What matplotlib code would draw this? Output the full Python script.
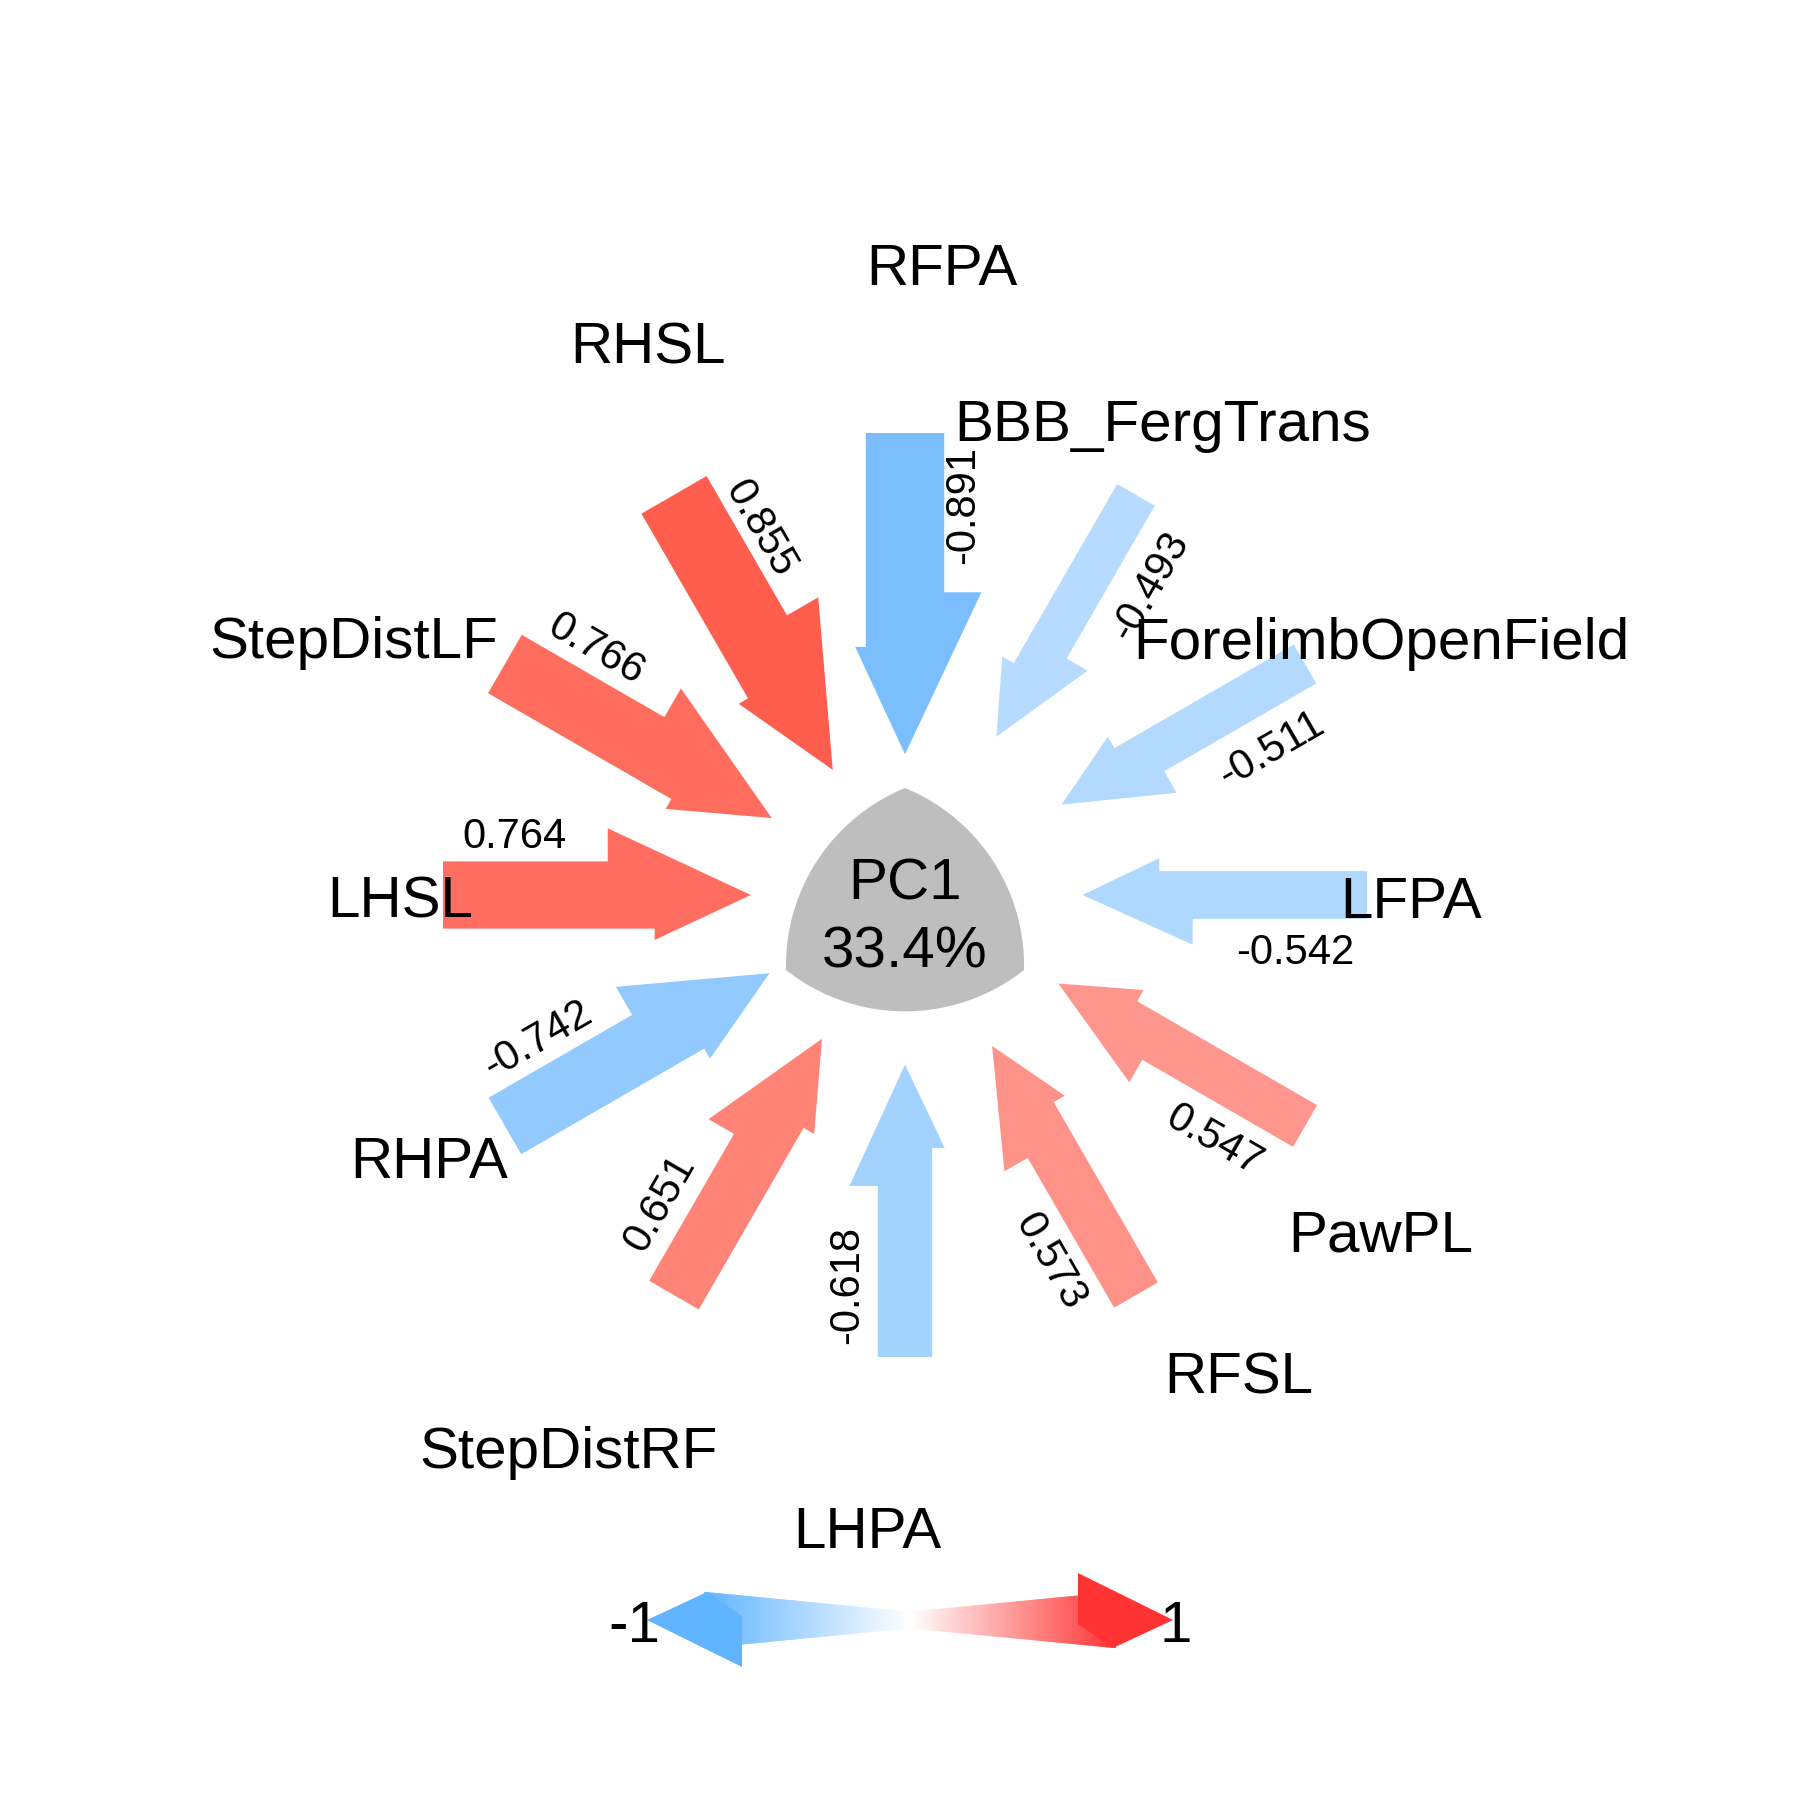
import numpy as np
import matplotlib
matplotlib.use("Agg")
import matplotlib.pyplot as plt
from matplotlib.patches import Polygon
from matplotlib.colors import LinearSegmentedColormap

plt.rcParams['font.family'] = ['Liberation Sans', 'DejaVu Sans']

# ---------------- data ----------------
variables = ["RFPA", "BBB_FergTrans", "ForelimbOpenField", "LFPA", "PawPL", "RFSL",
             "LHPA", "StepDistRF", "RHPA", "LHSL", "StepDistLF", "RHSL"]
loadings = [-0.891, -0.493, -0.511, -0.542, 0.547, 0.573,
            -0.618, 0.651, -0.742, 0.764, 0.766, 0.855]
component = "PC1"
variance_pct = 33.4
legend_ticks = [-1, 1]

# ---------------- layout (pixels in an 1800x1800 canvas) ----------------
CX, CY = 905.0, 895.0
R_TAIL = 462.0
LBL_R, LBL_PERP = 390.0, 58.0
# name label offsets from centre (cap-centre)
label_dx = [37, 258, 476, 506, 476, 334, -38, -336, -476, -505, -551, -257]
label_dy = [-631, -475, -257, 2, 336, 477, 632, 552, 262, 2, -258, -553]

arrow_cmap = LinearSegmentedColormap.from_list(
    "bwr_pc", [(108/255, 183/255, 253/255), (1, 1, 1), (1.0, 66/255, 48/255)])
legend_cmap = LinearSegmentedColormap.from_list(
    "bwr_leg", [(97/255, 180/255, 1.0), (1, 1, 1), (1.0, 51/255, 51/255)])

fig = plt.figure(figsize=(18, 18), dpi=100)
ax = fig.add_axes([0, 0, 1, 1])
ax.set_xlim(0, 1800)
ax.set_ylim(1800, 0)
ax.set_aspect('equal')
ax.axis('off')

C = np.array([CX, CY])


def head_params(w):
    return (29.5 + 3.38 * w, 8.2 + 1.74 * w, 29.0 + 2.0 * w, 16.8 + 0.84 * w)


for i, (name, v) in enumerate(zip(variables, loadings)):
    theta = 90 - 30 * i
    th = np.deg2rad(theta)
    u = np.array([np.cos(th), -np.sin(th)])
    d = -u
    n = np.array([d[1], -d[0]])
    w = 44.0 * abs(v)
    r_tip = 234.8 - 2.4 * w
    P = C + r_tip * u
    Q = C + R_TAIL * u
    af, sf, an, sn = head_params(w)
    pts = [Q + w * n, P - af * d + w * n, P - af * d + sf * n, P,
           P - an * d - sn * n, P - an * d - w * n, Q - w * n]
    col = arrow_cmap((v + 1) / 2)
    ax.add_patch(Polygon(pts, closed=True, facecolor=col, edgecolor='none', zorder=2))

    # value label
    lp = C + LBL_R * u + LBL_PERP * n
    rot = theta
    if rot > 89:
        rot -= 180
    if rot <= -90:
        rot += 180
    ax.text(lp[0], lp[1], f"{v:.3f}", fontsize=30, rotation=rot, rotation_mode='anchor',
            ha='center', va='center', color='black', zorder=5)

    # variable name
    ax.text(CX + label_dx[i], CY + label_dy[i] + 21, name, fontsize=42,
            ha='center', va='baseline', color='black', zorder=5)

# ---------------- central rounded triangle ----------------
verts = [np.array([905.0, 788.0]), np.array([1024.0, 970.0]), np.array([786.0, 970.0])]
centroid = sum(verts) / 3
R_ARC = 192.0
shape_pts = []
for k in range(3):
    A = verts[k]
    B = verts[(k + 1) % 3]
    M = (A + B) / 2
    ch = B - A
    h = np.linalg.norm(ch) / 2
    nrm = np.array([ch[1], -ch[0]]) / np.linalg.norm(ch)
    if np.dot(nrm, M - centroid) < 0:
        nrm = -nrm
    O = M - np.sqrt(R_ARC ** 2 - h ** 2) * nrm
    aA = np.arctan2(A[1] - O[1], A[0] - O[0])
    aB = np.arctan2(B[1] - O[1], B[0] - O[0])
    delta = (aB - aA + np.pi) % (2 * np.pi) - np.pi
    for t in np.linspace(0, 1, 80):
        a = aA + delta * t
        shape_pts.append(O + R_ARC * np.array([np.cos(a), np.sin(a)]))
ax.add_patch(Polygon(shape_pts, closed=True, facecolor='#BEBEBE', edgecolor='none', zorder=3))
ax.text(905, 900, component, fontsize=42, ha='center', va='baseline', zorder=5)
ax.text(905, 967, f"{variance_pct:.1f}%", fontsize=42, ha='center', va='baseline', zorder=5)

# ---------------- legend double arrow ----------------
LX, LY = 910.0, 1620.0
L_HALF = 263.0
GRAD_LEN = 207.0
for sgn in (-1, 1):
    dists = np.linspace(0, 205, 160)
    for d0, d1 in zip(dists[:-1], dists[1:]):
        x0, x1 = LX + sgn * d0, LX + sgn * (d1 + 0.8)
        h0, h1 = 8.3 + 16.2 * d0 / 168, 8.3 + 16.2 * (d1 + 0.8) / 168
        t = min((d0 + d1) / 2 / GRAD_LEN, 1.0)
        col = legend_cmap((sgn * t + 1) / 2)
        ax.add_patch(Polygon([[x0, LY - h0], [x1, LY - h1], [x1, LY + h1], [x0, LY + h0]],
                             closed=True, facecolor=col, edgecolor='none', zorder=2))
    tip = np.array([LX + sgn * L_HALF, LY])
    dd = np.array([sgn, 0.0])
    nn = np.array([dd[1], -dd[0]])
    af, sf, an, sn = 95.0, 47.0, 60.0, 28.0
    head = [tip - af * dd + sf * nn, tip - af * dd - 4 * nn,
            tip - an * dd - sn * nn, tip]
    ax.add_patch(Polygon(head, closed=True, facecolor=legend_cmap((sgn + 1) / 2),
                         edgecolor='none', zorder=3))

ax.text(634, LY + 22, f"{legend_ticks[0]}", fontsize=42, ha='center',
        va='baseline', zorder=5)
ax.text(1176, LY + 22, f"{legend_ticks[1]}", fontsize=42, ha='center',
        va='baseline', zorder=5)

fig.savefig("out.png", dpi=100, facecolor='white')
